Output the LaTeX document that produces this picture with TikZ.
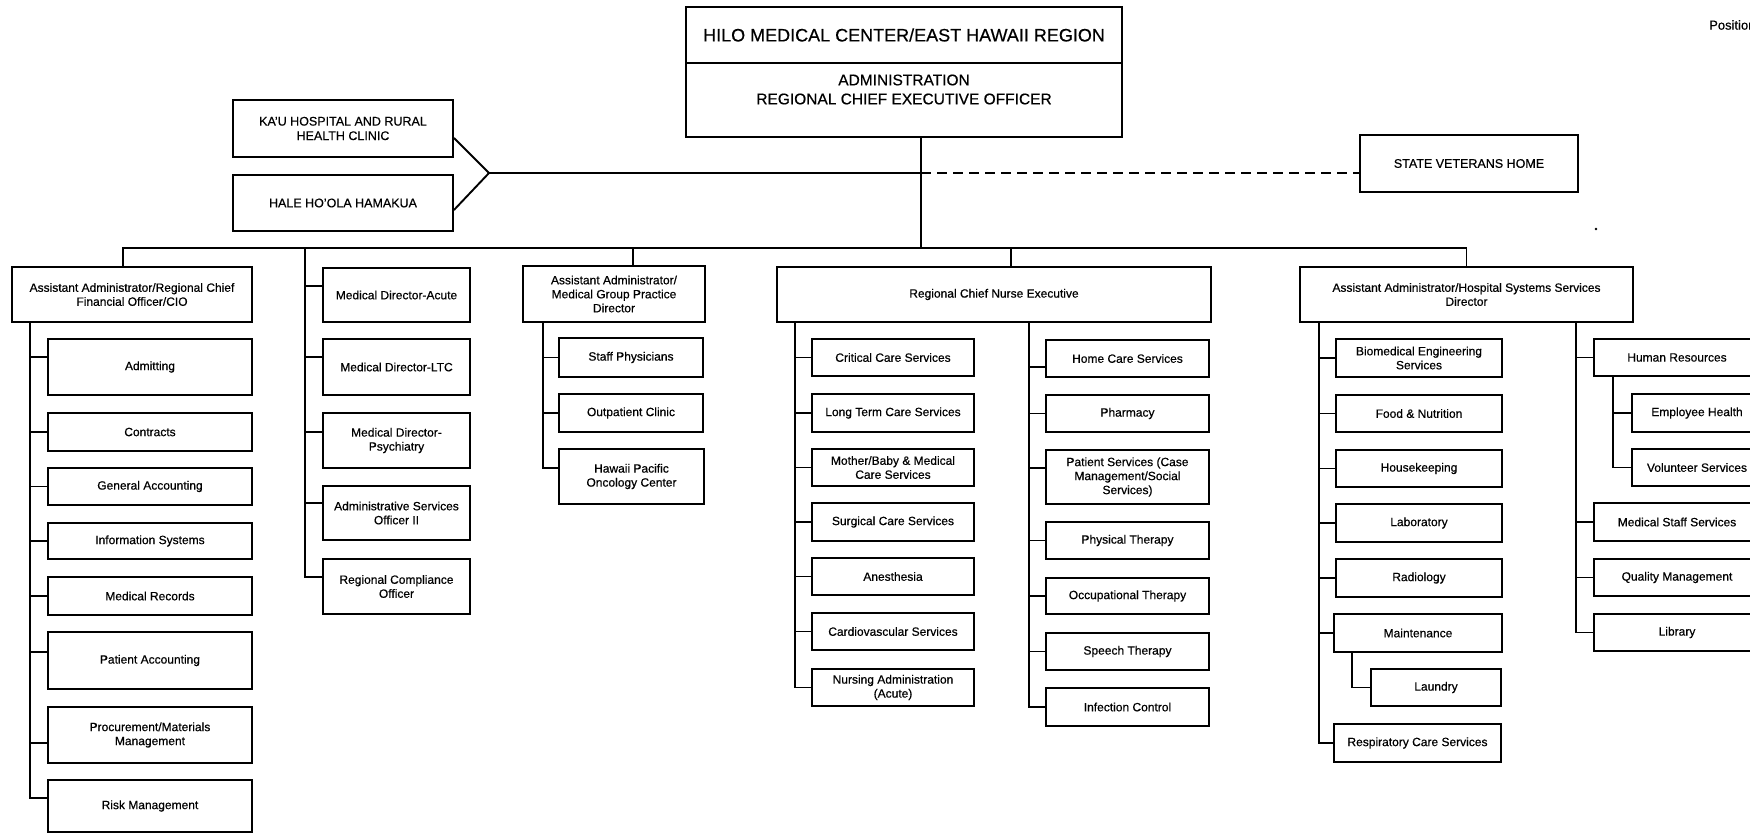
\documentclass[tikz,border=0pt]{standalone}
\usepackage{fontspec}
\setmainfont{Liberation Sans}[FakeBold=0.5]
\usetikzlibrary{calc}
\tikzset{
  orgbox/.style={draw, line width=1.9pt, inner sep=1pt, align=center, font=\fontsize{12}{14}\selectfont},
  bigbox/.style={orgbox, font=\fontsize{12.5}{14.5}\selectfont},
  link/.style={line width=1.9pt},
  dashlink/.style={line width=1.9pt, dash pattern=on 10pt off 6pt},
}
\newcommand\obox[7][orgbox]{\node[#1, minimum width={#5-#3}, minimum height={#6-#4}] (#2) at ({(#3+#5)/2},{(#4+#6)/2}) {#7};}
\newcommand\kid[3]{\draw[link] (#1) |- ([yshift=#3pt]#2.west);}
\begin{document}
\begin{tikzpicture}[x=1pt,y=-1pt]
\path[use as bounding box] (0,0) rectangle (1750,835);
\clip (0,0) rectangle (1750,835);
\fill[white] (0,0) rectangle (1750,835);

% top
\obox[orgbox, font=\fontsize{18}{20}\selectfont]{top1}{686}{7}{1122}{63}{HILO MEDICAL CENTER/EAST HAWAII REGION}
\obox{top2}{686}{63}{1122}{137}{}
\node[font=\fontsize{15.5}{19}\selectfont, align=center, inner sep=0] (admtxt) at (904,89.5) {ADMINISTRATION\\REGIONAL CHIEF EXECUTIVE OFFICER};
\obox[bigbox]{kau}{233}{100}{453}{157}{KA'U HOSPITAL AND RURAL\\HEALTH CLINIC}
\obox[bigbox]{hale}{233}{175}{453}{231}{HALE HO'OLA HAMAKUA}
\obox[bigbox]{svh}{1360}{135}{1578}{192}{STATE VETERANS HOME}
\node[anchor=west, inner sep=0, font=\fontsize{13}{15}\selectfont] (pos) at (1709,25) {Position};
\fill (1596,229) circle (1.3);

% level 2
\obox{cfo}{12}{267}{252}{322}{Assistant Administrator/Regional Chief\\Financial Officer/CIO}
\obox{md1}{323}{268}{470}{322}{Medical Director-Acute}
\obox{md2}{323}{339}{470}{395}{Medical Director-LTC}
\obox{md3}{323}{413}{470}{468}{Medical Director-\\Psychiatry}
\obox{md4}{323}{486}{470}{540}{Administrative Services\\Officer II}
\obox{md5}{323}{559}{470}{614}{Regional Compliance\\Officer}
\obox{mg}{523}{266}{705}{322}{Assistant Administrator/\\Medical Group Practice\\Director}
\obox{rn}{777}{267}{1211}{322}{Regional Chief Nurse Executive}
\obox{hss}{1300}{267}{1633}{322}{Assistant Administrator/Hospital Systems Services\\Director}

% CFO column
\obox{adm}{48}{339}{252}{395}{Admitting}
\obox{con}{48}{413}{252}{451}{Contracts}
\obox{gen}{48}{468}{252}{505}{General Accounting}
\obox{inf}{48}{523}{252}{559}{Information Systems}
\obox{mrec}{48}{577}{252}{615}{Medical Records}
\obox{pac}{48}{632}{252}{689}{Patient Accounting}
\obox{proc}{48}{707}{252}{763}{Procurement/Materials\\Management}
\obox{risk}{48}{780}{252}{832}{Risk Management}

% Medical group column
\obox{mg1}{559}{338}{703}{377}{Staff Physicians}
\obox{mg2}{559}{394}{703}{432}{Outpatient Clinic}
\obox{mg3}{559}{449}{704}{504}{Hawaii Pacific\\Oncology Center}

% Nurse columns
\obox{n1}{812}{339}{974}{376}{Critical Care Services}
\obox{n2}{812}{394}{974}{432}{Long Term Care Services}
\obox{n3}{812}{449}{974}{486}{Mother/Baby \& Medical\\Care Services}
\obox{n4}{812}{503}{974}{541}{Surgical Care Services}
\obox{n5}{812}{558}{974}{595}{Anesthesia}
\obox{n6}{812}{613}{974}{650}{Cardiovascular Services}
\obox{n7}{812}{669}{974}{706}{Nursing Administration\\(Acute)}
\obox{r1}{1046}{340}{1209}{377}{Home Care Services}
\obox{r2}{1046}{395}{1209}{432}{Pharmacy}
\obox{r3}{1046}{450}{1209}{504}{Patient Services (Case\\Management/Social\\Services)}
\obox{r4}{1046}{522}{1209}{559}{Physical Therapy}
\obox{r5}{1046}{578}{1209}{614}{Occupational Therapy}
\obox{r6}{1046}{633}{1209}{670}{Speech Therapy}
\obox{r7}{1046}{688}{1209}{726}{Infection Control}

% HSS columns
\obox{h1}{1336}{339}{1502}{377}{Biomedical Engineering\\Services}
\obox{h2}{1336}{395}{1502}{432}{Food \& Nutrition}
\obox{h3}{1336}{450}{1502}{487}{Housekeeping}
\obox{h4}{1336}{504}{1502}{542}{Laboratory}
\obox{h5}{1336}{559}{1502}{597}{Radiology}
\obox{h6}{1334}{614}{1502}{652}{Maintenance}
\obox{h7}{1371}{669}{1501}{706}{Laundry}
\obox{h8}{1334}{724}{1501}{762}{Respiratory Care Services}
\obox{k1}{1594}{339}{1760}{376}{Human Resources}
\obox{k2}{1632}{394}{1762}{432}{Employee Health}
\obox{k3}{1632}{449}{1762}{486}{Volunteer Services}
\obox{k4}{1594}{503}{1760}{541}{Medical Staff Services}
\obox{k5}{1594}{559}{1760}{596}{Quality Management}
\obox{k6}{1594}{614}{1760}{651}{Library}

% connectors: top
\coordinate (jn) at (489,173);
\coordinate (j1) at (921,173);
\coordinate (j2) at (921,248);
\coordinate (bus) at (0,248);
\draw[link] ([yshift=-9.5pt]kau.east) -- (jn) -- ([yshift=-7pt]hale.east);
\draw[link] (jn) -- (j1);
\draw[dashlink] (j1) -- (svh.west |- j1);
\draw[link] (top2.south -| j1) -- (j2);

% bus and drops
\coordinate (d1) at (123,0);
\coordinate (dmg) at (633,0);
\coordinate (dn) at (1011,0);
\draw[link] (cfo.north -| d1) -- (d1 |- bus) -- (bus -| hss.north) -- (hss.north);
\draw[link] (dmg |- bus) -- (dmg |- mg.north);
\draw[link] (dn |- bus) -- (dn |- rn.north);

% CFO spine
\coordinate (s1) at (30,0);
\coordinate (s1t) at (s1 |- cfo.south);
\kid{s1t}{adm}{10}
\kid{s1t}{con}{0}
\kid{s1t}{gen}{0}
\kid{s1t}{inf}{0}
\kid{s1t}{mrec}{0}
\kid{s1t}{pac}{8.5}
\kid{s1t}{proc}{-8}
\kid{s1t}{risk}{8}

% Medical director spine
\coordinate (smd) at (305,0);
\coordinate (smdt) at (smd |- bus);
\kid{smdt}{md1}{9}
\kid{smdt}{md2}{10}
\kid{smdt}{md3}{8.5}
\kid{smdt}{md4}{10}
\kid{smdt}{md5}{9.5}

% Medical group spine
\coordinate (smg) at (543,0);
\coordinate (smgt) at (smg |- mg.south);
\kid{smgt}{mg1}{0}
\kid{smgt}{mg2}{0}
\kid{smgt}{mg3}{8.5}

% Nurse spines
\coordinate (snl) at (795,0);
\coordinate (snlt) at (snl |- rn.south);
\kid{snlt}{n1}{0}
\kid{snlt}{n2}{0}
\kid{snlt}{n3}{0}
\kid{snlt}{n4}{0}
\kid{snlt}{n5}{0}
\kid{snlt}{n6}{0}
\kid{snlt}{n7}{0}
\coordinate (snr) at (1029,0);
\coordinate (snrt) at (snr |- rn.south);
\kid{snrt}{r1}{-8.5}
\kid{snrt}{r2}{0}
\kid{snrt}{r3}{9}
\kid{snrt}{r4}{0}
\kid{snrt}{r5}{0}
\kid{snrt}{r6}{0}
\kid{snrt}{r7}{0}

% HSS spines
\coordinate (shl) at (1319,0);
\coordinate (shlt) at (shl |- hss.south);
\kid{shlt}{h1}{0}
\kid{shlt}{h2}{0}
\kid{shlt}{h3}{0}
\kid{shlt}{h4}{0}
\kid{shlt}{h5}{0}
\kid{shlt}{h6}{0}
\kid{shlt}{h8}{0}
\coordinate (smt) at (1352,0);
\coordinate (smtt) at (smt |- h6.south);
\kid{smtt}{h7}{0}
\coordinate (shr) at (1576,0);
\coordinate (shrt) at (shr |- hss.south);
\kid{shrt}{k1}{0}
\kid{shrt}{k4}{0}
\kid{shrt}{k5}{0}
\kid{shrt}{k6}{0}
\coordinate (shh) at (1613,0);
\coordinate (shht) at (shh |- k1.south);
\kid{shht}{k2}{0}
\kid{shht}{k3}{0}
\end{tikzpicture}
\end{document}
